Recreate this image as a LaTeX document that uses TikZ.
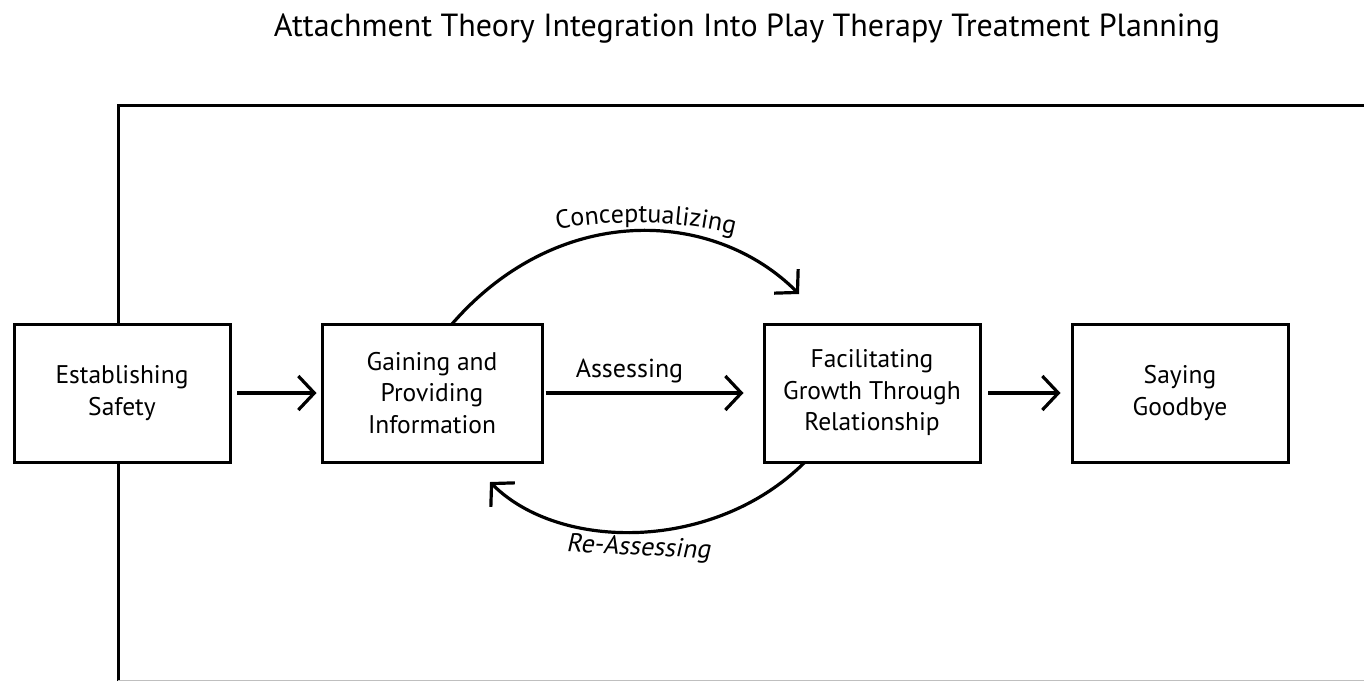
\documentclass[tikz,border=0pt]{standalone}
\usepackage{fontspec}
\setmainfont{PT Sans}
\newfontfamily\slantfont[FakeSlant=0.18]{PT Sans}
\usetikzlibrary{arrows.meta,decorations.text}
\newcommand\lblsize{\fontsize{26}{30}\selectfont}
\begin{document}
\begin{tikzpicture}[x=1pt,y=-1pt,
  stagebox/.style={draw, line width=3pt, fill=white, minimum width=216pt,
    minimum height=138pt, inner sep=0pt, align=center,
    font=\fontsize{25.5}{31.5}\selectfont},
  arr/.style={line width=3.2pt, -{Straight Barb[length=16pt,width=34pt]}},
  lbl/.style={font=\lblsize, inner sep=0pt}]
\useasboundingbox (0,0) rectangle (1364,681);
% title
\node[anchor=base, font=\fontsize{32}{36}\selectfont, inner sep=0pt] (title) at (747,36)
  {Attachment Theory Integration Into Play Therapy Treatment Planning};
% frame
\draw[line width=3pt] (118,681) -- (118,105) -- (1364,105);
\draw[line width=1.5pt, black!25] (118,680.5) -- (1364,680.5);
% boxes
\node[stagebox] (safe) at (122,393) {Establishing\\Safety};
\node[stagebox, minimum width=220pt] (gain) at (432,393) {Gaining and\\Providing\\Information};
\node[stagebox] (grow) at (872,393) {Facilitating\\Growth Through\\Relationship};
\node[stagebox] (bye) at (1180,393) {Saying\\Goodbye};
% straight arrows
\draw[arr, shorten <=5.5pt, shorten >=4pt] (safe) -- (gain);
\draw[arr, shorten <=2pt, shorten >=19pt] (gain) -- (grow);
\draw[arr, shorten <=6.5pt, shorten >=10pt] (grow) -- (bye);
\node[lbl, anchor=base] (assess) at (629.5,377) {Assessing};
% curved arrows
\coordinate (t1) at ([xshift=131.5pt,yshift=-1.5pt]gain.north west);
\coordinate (t2) at ([xshift=36.5pt,yshift=28.5pt]grow.north west);
\draw[arr] (t1) .. controls +(106,-122) and +(-86,-86) .. (t2);
\coordinate (b1) at ([xshift=42.5pt,yshift=1.5pt]grow.south west);
\coordinate (b2) at ([xshift=-53.5pt,yshift=-18.5pt]gain.south east);
\draw[arr] (b1) .. controls +(-90,90) and +(70,70) .. (b2);
% curved labels
\coordinate (c0) at (535,234);
\path[decorate, decoration={text along path, text align=center,
   text={|\lblsize|Conceptualizing}}] (c0) arc[start angle=256.7, end angle=286.5, radius=430];
\node[lbl, anchor=base, rotate=-2.7] (reassess) at (638,555) {\slantfont Re-Assessing};
\end{tikzpicture}
\end{document}
